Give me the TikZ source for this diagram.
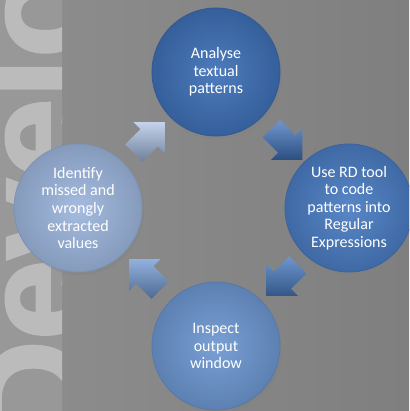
\documentclass[tikz,border=0pt]{standalone}
\usepackage{fontspec}
\setmainfont{Carlito}
\newfontfamily\markfont[FakeBold=2]{Liberation Sans Bold}
\usepackage{tikz}
\usetikzlibrary{positioning,calc,shapes.arrows,shadows}
\definecolor{slidegray}{HTML}{7F7F7F}
\definecolor{slidelight}{HTML}{8E8E8E}
\definecolor{bandgray}{HTML}{989898}
\definecolor{markgray}{HTML}{BBBBBB}
\definecolor{stepA}{HTML}{3E70B6}
\definecolor{stepB}{HTML}{4A7CC2}
\definecolor{stepC}{HTML}{6D97D1}
\definecolor{stepD}{HTML}{9DB6DD}
\tikzset{
    stage/.style={
           circle,
           minimum size=128pt,
           inner sep=0pt,
           line width=0.8pt,
           text=white,
           align=center,
           font=\fontsize{16}{17.6}\selectfont,
           drop shadow={shadow xshift=2pt,shadow yshift=-3pt,opacity=0.3},
           },
    turn/.style={
           single arrow,
           single arrow head extend=10pt,
           minimum height=44pt,
           inner sep=12pt,
           shading=axis,
           shading angle=0,
           },
}
\begin{document}
\begin{tikzpicture}[x=1pt,y=-1pt]
 \useasboundingbox (0,0) rectangle (409,411);
 \clip (0,0) rectangle (409,411);
 % slide background and the watermark word
 \shade[left color=slidelight,right color=slidegray] (0,0) rectangle (409,411);
 \fill[bandgray] (0,0) rectangle (62,411);
 \begin{scope}
 \clip (0,0) rectangle (62,411);
 \node[rotate=90,
 anchor=base west,
 inner sep=0pt,
 text=markgray,
 font=\markfont\fontsize{145}{145}\selectfont] (mark) at (84,445)
 {Development};
 \end{scope}

 % the four stages
 \node[stage,
 draw=stepA!80!black,
 inner color=stepA!92!white,
 outer color=stepA!85!black] (analyse) at (216,72)
 {Analyse\\textual\\patterns};
 \node[stage,
 draw=stepB!80!black,
 inner color=stepB!92!white,
 outer color=stepB!85!black] (regex) at (349,208)
 {Use RD tool\\to code\\patterns into\\Regular\\Expressions};
 \node[stage,
 draw=stepC!80!black,
 inner color=stepC!92!white,
 outer color=stepC!85!black] (inspect) at (216,346)
 {Inspect\\output\\window};
 \node[stage,
 draw=stepD!80!black,
 inner color=stepD!92!white,
 outer color=stepD!85!black] (identify) at (78,208)
 {Identify\\missed and\\wrongly\\extracted\\values};

 % the arrows of the cycle
 \node[turn,rotate=-45,
 top color=stepB!80!white,
 middle color=stepB,
 bottom color=stepA!70!black] (ar) at ($(analyse)!0.5!(regex)$) {};
 \node[turn,rotate=-135,
 top color=stepB!80!white,
 middle color=stepB,
 bottom color=stepB!70!black] (ri) at ($(regex)!0.5!(inspect)+(4,-1)$) {};
 \node[turn,rotate=135,
 top color=stepC!75!white,
 middle color=stepC,
 bottom color=stepC!70!black] (ii) at ($(inspect)!0.5!(identify)+(2,2)$) {};
 \node[turn,rotate=45,
 top color=stepD!60!white,
 middle color=stepD,
 bottom color=stepD!70!black] (ia) at ($(identify)!0.5!(analyse)+(-2,2)$) {};
\end{tikzpicture}
\end{document}
